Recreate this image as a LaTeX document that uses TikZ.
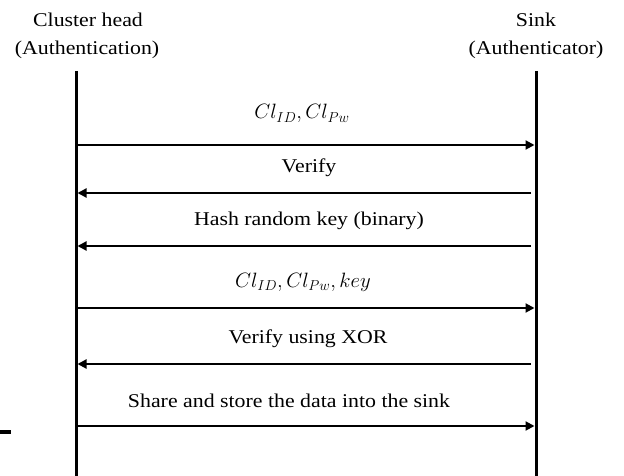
\documentclass[tikz,border=0pt]{standalone}
\usepackage{fontspec}
\setmainfont{Liberation Serif}[FakeStretch=1.12]
\usetikzlibrary{arrows.meta}
\tikzset{
  lifeline/.style={line width=3pt},
  msg/.style={line width=2pt,-{Triangle[length=9pt,width=9pt]}},
  lbl/.style={anchor=base,inner sep=0pt,font=\fontsize{19.5}{23}\selectfont},
  head/.style={anchor=base,inner sep=0pt,font=\fontsize{19.5}{23}\selectfont}
}
\begin{document}
\begin{tikzpicture}[x=1pt,y=-1pt]
\useasboundingbox (0,0) rectangle (624,476);

% participants
\node[head] (chname) at (88,27) {Cluster head};
\node[head] (chrole) at (87,55) {(Authentication)};
\node[head] (skname) at (536,27) {Sink};
\node[head] (skrole) at (536,55) {(Authenticator)};

% lifelines
\coordinate (chtop) at (76,71);
\coordinate (chbot) at (76,476);
\coordinate (sktop) at (536,71);
\coordinate (skbot) at (536,476);
\draw[lifeline] (chtop) -- (chbot);
\draw[lifeline] (sktop) -- (skbot);

% message anchors on the two lifelines
\foreach \i/\y in {1/145,2/193,3/246,4/308,5/364,6/426}{
  \coordinate (a\i) at (76,\y);
  \coordinate (b\i) at (536,\y);
}

% messages
\draw[msg,shorten >=1.5pt] (a1) -- (b1);
\draw[msg,shorten <=5pt,shorten >=1.5pt] (b2) -- (a2);
\draw[msg,shorten <=5pt,shorten >=1.5pt] (b3) -- (a3);
\draw[msg,shorten >=1.5pt] (a4) -- (b4);
\draw[msg,shorten <=5pt,shorten >=1.5pt] (b5) -- (a5);
\draw[msg,shorten >=1.5pt] (a6) -- (b6);

% message labels
\node[lbl] (m1) at (302,119) {$Cl_{ID}, Cl_{Pw}$};
\node[lbl] (m2) at (309,173) {Verify};
\node[lbl] (m3) at (309,225) {Hash random key (binary)};
\node[lbl] (m4) at (303,287) {$Cl_{ID}, Cl_{Pw}, key$};
\node[lbl] (m5) at (308,343) {Verify using XOR};
\node[lbl] (m6) at (289,407) {Share and store the data into the sink};

% short mark at the left edge
\draw[line width=4pt] (0,432) -- (11,432);
\end{tikzpicture}
\end{document}
